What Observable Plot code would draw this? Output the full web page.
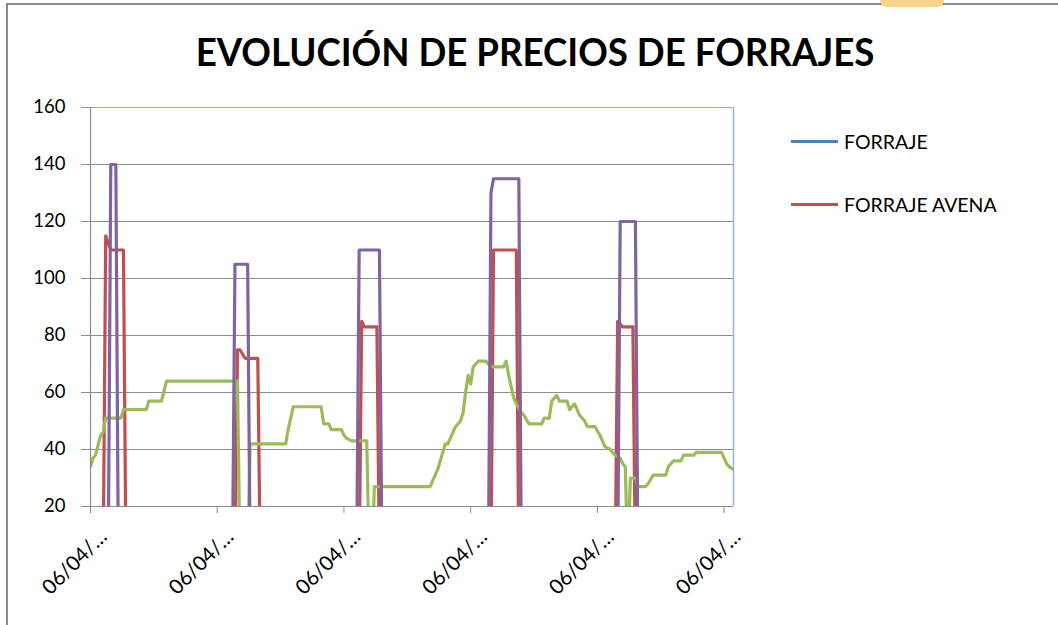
<!DOCTYPE html>
<html>
<head>
<meta charset="utf-8">
<script src="https://cdn.jsdelivr.net/npm/d3@7"></script>
<script src="https://cdn.jsdelivr.net/npm/@observablehq/plot@0.6"></script>
<style>
  body { margin: 0; background: #fff; }
  #wrap { position: relative; width: 1058px; height: 625px; overflow: hidden; background: #fff; font-family: Lato, "Open Sans", sans-serif; }
  #frameTop { position: absolute; left: 6px; top: 3px; width: 1052px; height: 2px; background: #8a8a8a; }
  #frameLeft { position: absolute; left: 6px; top: 3px; width: 2px; height: 622px; background: #8a8a8a; }
  #blob { position: absolute; left: 880px; top: 0px; width: 64px; height: 7px; background: #fbd38a; border-radius: 0 0 22px 22px; }
  #title { position: absolute; left: 0; top: 32px; width: 1070px; text-align: center; font-weight: 700; font-size: 39px; line-height: 39px; color: #000; white-space: nowrap; transform: scaleX(0.94); transform-origin: 535px 0; }
  #chart { position: absolute; left: 0; top: 0; }
  .leg { position: absolute; left: 791px; height: 40px; }
  .leg .sw { position: absolute; left: 0; width: 47px; height: 3px; }
  .leg .lb { position: absolute; left: 53px; font-size: 19.5px; line-height: 19.5px; color: #000; white-space: nowrap; }
</style>
</head>
<body>
<div id="wrap">
  <div id="chart"></div>
  <div id="frameTop"></div>
  <div id="frameLeft"></div>
  <div id="blob"></div>
  <div id="title"></div>
  <div id="legend"></div>
</div>
<script>
// ---- Data (index of sampled date, price) ----
const chartTitle = "EVOLUCIÓN DE PRECIOS DE FORRAJES";
const legendNames = ["FORRAJE", "FORRAJE AVENA"];
const legendColors = ["#4F81BD", "#C0504D"];
const xTickIndex = [0, 50, 100, 150, 200, 250];
const xTickLabels = ["06/04/…", "06/04/…", "06/04/…", "06/04/…", "06/04/…", "06/04/…"];
const yTicks = [20, 40, 60, 80, 100, 120, 140, 160];
const xMaxIndex = 253.7;

// FORRAJE AVENA (red)
const forrajeAvena = [
  [0,0],[5,0],[6,115],[8,110],[13,110],[14,0],
  [57,0],[58,75],[59,75],[61,72],[66,72],[67,0],
  [106,0],[107,85],[108,83],[113,83],[114,0],
  [158,0],[159,110],[168,110],[169,0],
  [207,0],[208,85],[210,83],[214,83],[215,0],[253.7,0]
];

// third series (green)
const serieVerde = [
  [0,34],[1,37],[2,38],[4,45],[5,46],[6,51],[12,51],[13,54],[22,54],[23,57],[28,57],[30,64],
  [58,64],[59,0],[62,0],[63,42],[77,42],[78,47],[80,55],[91,55],[92,49],[94,49],[95,47],
  [99,47],[100,45],[101,44],[103,43],[109,43],[110,0],[111,0],[112,27],[134,27],[135,29],
  [137,33],[138,36],[140,42],[141,42],[142,44],[144,48],[146,50],[147,53],[148,60],[149,66],
  [150,63],[151,69],[152,70],[153,71],[156,71],[157,70],[158,69],[163,69],[164,71],[165,66],
  [166,62],[167,58],[168,56],[170,53],[171,52],[173,49],[178,49],[179,51],[181,51],[182,57],
  [184,59],[185,57],[188,57],[189,54],[191,56],[193,52],[195,50],[196,48],[199,48],[201,45],
  [203,41],[205,40],[207,38],[209,37],[210,35],[211,34],[212,0],[213,30],[215,30],[216,27],
  [219,27],[220,28],[222,31],[227,31],[228,34],[230,36],[233,36],[234,38],[238,38],[239,39],
  [249,39],[250,37],[251,35],[252,34],[253.7,33]
];

// fourth series (purple)
const serieMorada = [
  [0,0],[7,0],[8,140],[10,140],[11,0],
  [56,0],[57,105],[62,105],[63,0],
  [105,0],[106,110],[114,110],[115,0],
  [157,0],[158,130],[159,135],[169,135],[170,0],
  [208,0],[209,120],[215,120],[216,0],[253.7,0]
];

const colors = { rojo: "#C0504D", verde: "#9BBB59", morado: "#8064A2" };

// ---- Title & legend ----
document.getElementById("title").textContent = chartTitle;
const legend = document.getElementById("legend");
legendNames.forEach((name, i) => {
  const row = document.createElement("div");
  row.className = "leg";
  row.style.top = (i === 0 ? 122 : 185) + "px";
  row.innerHTML = `<div class="sw" style="top:18px;background:${legendColors[i]}"></div><div class="lb" style="top:10px">${name}</div>`;
  legend.appendChild(row);
});

// ---- Chart ----
const lineOpts = { x: d => d[0], y: d => d[1], strokeWidth: 3.2, clip: true, curve: "linear" };
const plot = Plot.plot({
  width: 760,
  height: 625,
  marginLeft: 90,
  marginRight: 27,
  marginTop: 107,
  marginBottom: 119,
  style: { background: "transparent", color: "#000", fontFamily: "Lato, 'Open Sans', sans-serif" },
  x: { type: "linear", domain: [0, xMaxIndex] },
  y: { type: "linear", domain: [20, 160] },
  marks: [
    Plot.ruleY(yTicks.filter(v => v > 20 && v < 160), { stroke: "#8c8c8c", strokeWidth: 1 }),
    Plot.ruleY([160], { stroke: "#95B3D7", strokeWidth: 1.2 }),
    Plot.ruleX([xMaxIndex], { stroke: "#95B3D7", strokeWidth: 1.5 }),
    Plot.line(forrajeAvena, { ...lineOpts, stroke: colors.rojo }),
    Plot.line(serieVerde, { ...lineOpts, stroke: colors.verde }),
    Plot.line(serieMorada, { ...lineOpts, stroke: colors.morado }),
    Plot.ruleX([0], { stroke: "#8c8c8c", strokeWidth: 1.2 }),
    Plot.ruleY([20], { stroke: "#8c8c8c", strokeWidth: 1.2 }),
    Plot.axisY({ ticks: yTicks, tickSize: 9, tickPadding: 16, stroke: "#8c8c8c", fontSize: 18.5, fill: "#000" }),
    Plot.axisX({ ticks: xTickIndex, tickSize: 7, stroke: "#8c8c8c", tickFormat: () => "" }),
    Plot.text(xTickIndex, {
      x: d => d, frameAnchor: "bottom",
      text: (d, i) => xTickLabels[i],
      rotate: -45, textAnchor: "end", lineAnchor: "middle",
      dx: 13, dy: 27, fontSize: 20.5, fill: "#000"
    })
  ]
});
document.getElementById("chart").appendChild(plot);
</script>
</body>
</html>
